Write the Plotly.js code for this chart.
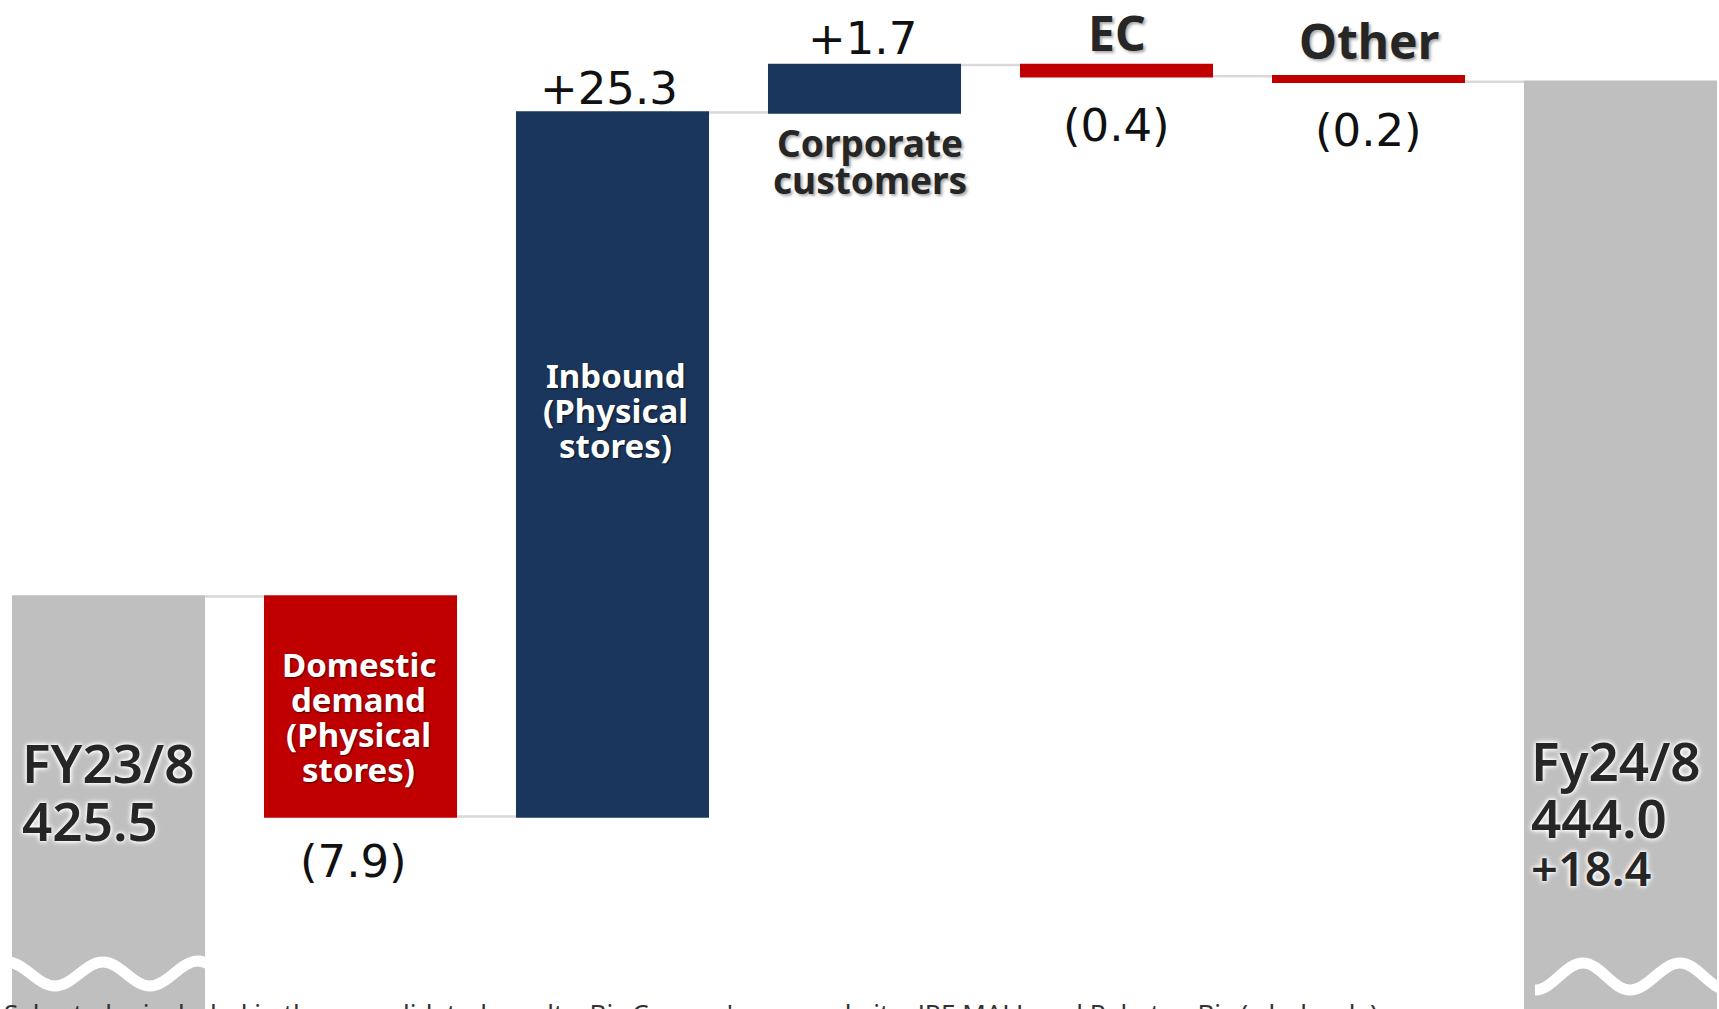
<!DOCTYPE html>
<html><head><meta charset="utf-8">
<script src="https://cdn.plot.ly/plotly-3.0.1.min.js"></script>
<style>html,body{margin:0;padding:0;background:#fff;overflow:hidden}#chart{width:1719px;height:1009px}</style>
</head><body><div id="chart"></div>
<script>
// ---------- data ----------
const categories = ['FY23/8', 'Domestic demand (Physical stores)', 'Inbound (Physical stores)', 'Corporate customers', 'EC', 'Other', 'FY24/8'];
const measures = ['absolute', 'relative', 'relative', 'relative', 'relative', 'relative', 'total'];
const values = [425.5, -7.9, 25.3, 1.7, -0.4, -0.2, 0];
const valueLabels = ['425.5', '(7.9)', '+25.3', '+1.7', '(0.4)', '(0.2)', '444.0'];
const periodLabels = ['FY23/8', 'Fy24/8'];
const totalChangeLabel = '+18.4';
const domesticLines = ['Domestic', 'demand', '(Physical', 'stores)'];
const inboundLines = ['Inbound', '(Physical', 'stores)'];
const corporateLines = ['Corporate', 'customers'];
const footnote = "Sales to be included in the consolidated results: Bic Camera's own website, JRE MALL and Rakuten Bic (wholesale)";

// ---------- layout constants ----------
const W = 1719, H = 1009;
const PITCH = 252;            // px per category
const FIRST_CENTER = 108.5;   // px
const Y_RANGE = [410.68, 446.94];
const PX_PER_UNIT = H / (Y_RANGE[1] - Y_RANGE[0]);
const BAR_W = 0.766;
const xPos = categories.map((c, i) => i);
const X_RANGE = [-FIRST_CENTER / PITCH, (W - FIRST_CENTER) / PITCH];

const NAVY = '#1b365d', RED = '#c00000', GRAY = '#bfbfbf', DARK = '#262626';
const NUM_FONT = 'DejaVu Sans', TXT_FONT = 'Noto Sans';

const pyToPaper = py => 1 - py / H;
const pyToData = py => Y_RANGE[1] - py / PX_PER_UNIT;

// ---------- traces ----------
const traces = [{
  type: 'waterfall',
  x: xPos,
  y: values,
  measure: measures,
  width: BAR_W,
  increasing: {marker: {color: NAVY, line: {width: 0}}},
  decreasing: {marker: {color: RED, line: {width: 0}}},
  totals: {marker: {color: GRAY, line: {width: 0}}},
  connector: {mode: 'between', line: {color: '#d9d9d9', width: 2.5}},
  textinfo: 'none',
  hoverinfo: 'skip'
}];

// axis-break waves (decoration) on the two total bars, as bezier paths between wave extremes
function wavePath(barIdx, extremes) {
  const left = barIdx - BAR_W / 2;
  const pts = extremes.map(e => [left + e[0] / PITCH, pyToData(e[1])]);
  let d = 'M' + pts[0][0] + ',' + pts[0][1];
  for (let i = 1; i < pts.length; i++) {
    const [x0, y0] = pts[i - 1], [x1, y1] = pts[i];
    const k = 0.3642 * (x1 - x0);
    d += ' C' + (x0 + k) + ',' + y0 + ' ' + (x1 - k) + ',' + y1 + ' ' + x1 + ',' + y1;
  }
  return {type: 'path', xref: 'x', yref: 'y', path: d, line: {color: '#ffffff', width: 11}, layer: 'above'};
}
const shapes = [
  wavePath(0, [[-5, 962], [43, 986], [91, 962], [138, 986], [186, 961], [226, 980]]),
  wavePath(6, [[11, 990], [59, 963], [106, 990], [156, 963], [204, 990]])
];

// ---------- annotations ----------
const ann = [];
function lbl(text, xi, py, font, extra) {
  ann.push(Object.assign({
    x: xPos[xi], xref: 'x', y: pyToPaper(py), yref: 'paper',
    text: text, showarrow: false, xanchor: 'center', yanchor: 'middle',
    font: font
  }, extra || {}));
}
const numFont = {family: NUM_FONT, size: 45, color: '#111111'};
const headFont = {family: TXT_FONT, size: 48, color: DARK, weight: 700, shadow: '2px 2px 3px rgba(0,0,0,0.35)'};
const corpFont = {family: TXT_FONT, size: 37, color: DARK, weight: 700, shadow: '2px 2px 3px rgba(0,0,0,0.35)'};
const inBarFont = {family: TXT_FONT, size: 33, color: '#ffffff', weight: 700, shadow: '1px 1px 2px rgba(0,0,0,0.6)'};
const glow = '0 0 3px #ffffff, 0 0 5px #ffffff, 0 0 6px #ffffff';
const bigFont = {family: TXT_FONT, size: 53, color: DARK, weight: 600, shadow: glow};
const midFont = {family: TXT_FONT, size: 47, color: DARK, weight: 600, shadow: glow};

// value labels
lbl(valueLabels[2], 2, 88, numFont, {xshift: -4});
lbl(valueLabels[3], 3, 38, numFont, {xshift: -2});
lbl(valueLabels[1], 1, 861, numFont, {xshift: -7});
lbl(valueLabels[4], 4, 125, numFont);
lbl(valueLabels[5], 5, 130, numFont);

// names above / below
lbl(categories[4], 4, 32, headFont);
lbl(categories[5], 5, 41, headFont);
corporateLines.forEach((t, k) => lbl(t, 3, 143 + k * 37, corpFont, {xshift: 5}));
inboundLines.forEach((t, k) => lbl(t, 2, 375 + k * 35.5, inBarFont, {xshift: 3}));
domesticLines.forEach((t, k) => lbl(t, 1, 664 + k * 35.3, inBarFont, {xshift: -2}));

// totals
const halfPx = BAR_W * PITCH / 2;
lbl(periodLabels[0], 0, 762, bigFont, {xanchor: 'left', xshift: -halfPx + 8});
lbl(valueLabels[0], 0, 820, bigFont, {xanchor: 'left', xshift: -halfPx + 8});
lbl(periodLabels[1], 6, 760, bigFont, {xanchor: 'left', xshift: -halfPx + 5});
lbl(valueLabels[6], 6, 817, bigFont, {xanchor: 'left', xshift: -halfPx + 5});
lbl(totalChangeLabel, 6, 868, midFont, {xanchor: 'left', xshift: -halfPx + 5});

// footnote (cut at page bottom as in the reference)
ann.push({x: 0, xref: 'paper', y: pyToPaper(1013), yref: 'paper', xanchor: 'left', yanchor: 'middle',
  text: footnote, showarrow: false, font: {family: TXT_FONT, size: 26, color: '#333333'}, xshift: 2});

const layout = {
  width: W, height: H,
  margin: {l: 0, r: 0, t: 0, b: 0, pad: 0},
  paper_bgcolor: '#ffffff', plot_bgcolor: '#ffffff',
  showlegend: false, hovermode: false,
  xaxis: {type: 'linear', range: X_RANGE, visible: false, fixedrange: true},
  yaxis: {range: Y_RANGE, visible: false, fixedrange: true},
  shapes: shapes,
  annotations: ann
};

Plotly.newPlot('chart', traces, layout, {staticPlot: true, displayModeBar: false});
</script>
</body></html>
